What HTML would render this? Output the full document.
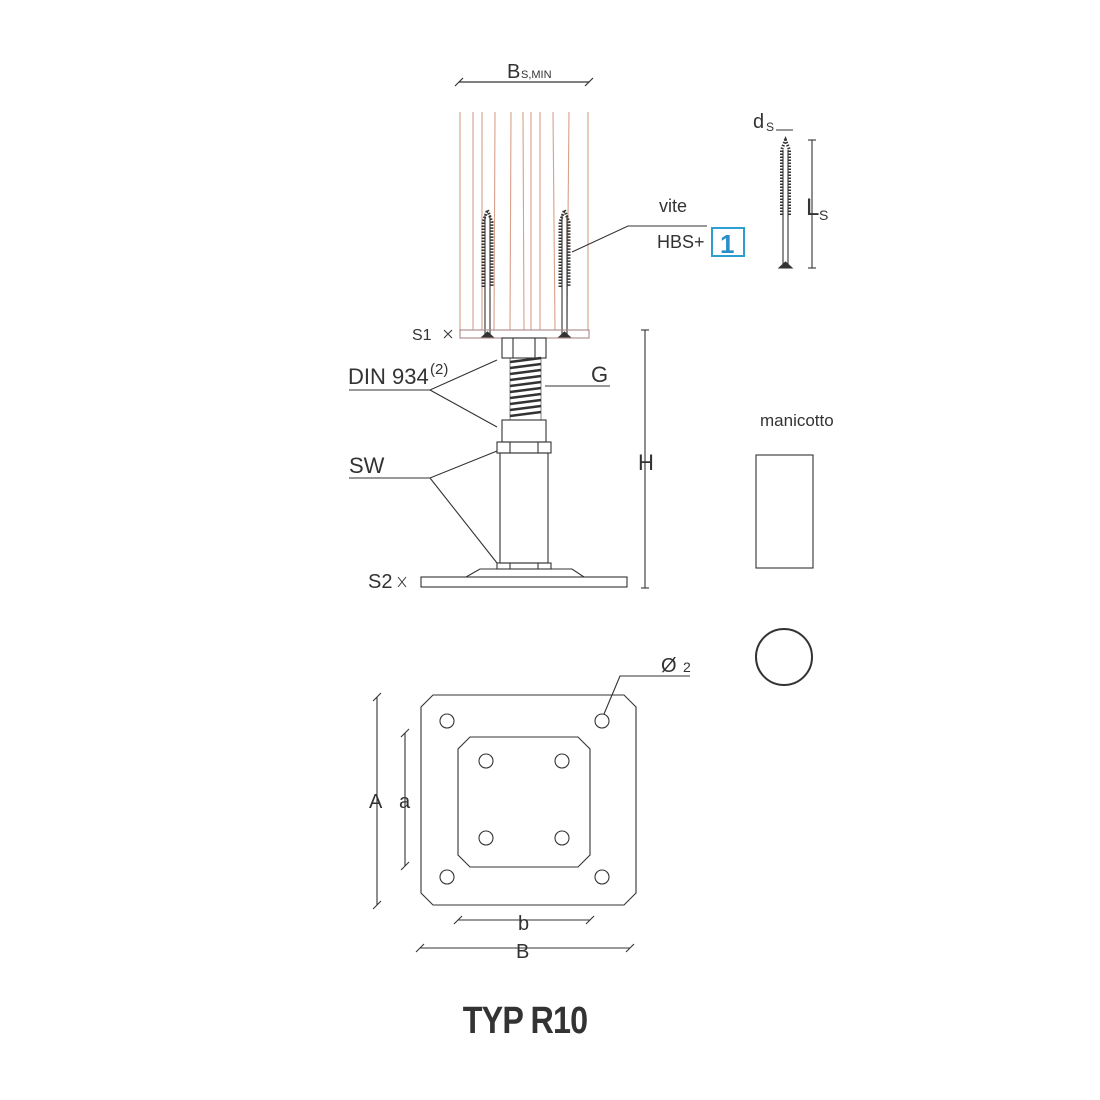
<!DOCTYPE html><html><head><style>body{margin:0;background:#fff}svg{display:block}text{font-family:"Liberation Sans",sans-serif;fill:#333}</style></head><body>
<svg width="1100" height="1100" viewBox="0 0 1100 1100" xmlns="http://www.w3.org/2000/svg">
<g stroke="#333" fill="none" stroke-width="1.2">
<line x1="459" y1="82" x2="589" y2="82"/><line x1="455" y1="86" x2="463" y2="78"/><line x1="585" y1="86" x2="593" y2="78"/>
</g>
<text x="507" y="78" font-size="20">B</text><text x="521" y="78" font-size="11">S,MIN</text>
<g stroke="#d9a08a" stroke-width="1.1" fill="none">
<line x1="460" y1="112" x2="460" y2="330"/><line x1="473" y1="112" x2="473" y2="330"/><line x1="482" y1="112" x2="482" y2="330"/><line x1="495" y1="112" x2="494" y2="330"/><line x1="511" y1="112" x2="510" y2="330"/><line x1="523" y1="112" x2="524" y2="330"/><line x1="531" y1="112" x2="531" y2="330"/><line x1="540" y1="112" x2="540" y2="330"/><line x1="553" y1="112" x2="555" y2="330"/><line x1="569" y1="112" x2="567" y2="330"/><line x1="588" y1="112" x2="588" y2="330"/>
</g>
<g stroke="#333" fill="none" stroke-width="1.1">
<line x1="485" y1="215" x2="485" y2="334"/><line x1="490" y1="215" x2="490" y2="334"/>
<line x1="562" y1="215" x2="562" y2="334"/><line x1="567" y1="215" x2="567" y2="334"/>
<path d="M483 287 L483 222 L487.5 210 L492 222 L492 287" stroke-dasharray="1.5 1.5" stroke-width="3"/>
<path d="M560 287 L560 222 L564.5 210 L569 222 L569 287" stroke-dasharray="1.5 1.5" stroke-width="3"/>
<path d="M481 338 L487.5 332 L494 338 Z M558 338 L564.5 332 L571 338 Z" fill="#333"/>
<rect x="460" y="330" width="129" height="8" stroke="#a88"/>
<polyline points="572,252 628,226 707,226"/>
<rect x="502" y="338" width="44" height="20"/><line x1="513" y1="338" x2="513" y2="358"/><line x1="535" y1="338" x2="535" y2="358"/>
<rect x="510" y="358" width="31" height="62" stroke-width="0.6"/>
<path d="M510 362 L541 358 M510 368 L541 364 M510 374 L541 370 M510 380 L541 376 M510 386 L541 382 M510 392 L541 388 M510 398 L541 394 M510 404 L541 400 M510 410 L541 406 M510 416 L541 412" stroke-width="2.5"/>
<rect x="502" y="420" width="44" height="22"/>
<rect x="497" y="442" width="54" height="11"/><line x1="510" y1="442" x2="510" y2="453"/><line x1="538" y1="442" x2="538" y2="453"/>
<rect x="500" y="453" width="48" height="110"/>
<rect x="497" y="563" width="54" height="6"/><line x1="510" y1="563" x2="510" y2="569"/><line x1="538" y1="563" x2="538" y2="569"/>
<polyline points="466,577 480,569 572,569 584,577"/>
<rect x="421" y="577" width="206" height="10"/>
<polyline points="349,390 430,390 497,360"/><line x1="430" y1="390" x2="497" y2="427"/>
<polyline points="349,478 430,478 497,451"/><line x1="430" y1="478" x2="497" y2="563"/>
<polyline points="610,386 545,386"/>
<line x1="645" y1="330" x2="645" y2="588"/><line x1="641" y1="330" x2="649" y2="330"/><line x1="641" y1="588" x2="649" y2="588"/>
<path d="M444 330 L452 338 M444 338 L452 330" stroke-width="1"/>
<path d="M398 577 L406 587 M398 587 L406 577" stroke-width="1"/>
<line x1="783" y1="150" x2="783" y2="265"/><line x1="788" y1="150" x2="788" y2="265"/>
<path d="M781.5 215 L781.5 150 L785.5 140 L789.5 150 L789.5 215" stroke-dasharray="1.5 1.5" stroke-width="3"/>
<path d="M779 268 L785.5 262 L792 268 Z" fill="#333"/>
<line x1="776" y1="130" x2="793" y2="130"/>
<line x1="812" y1="140" x2="812" y2="268"/><line x1="808" y1="140" x2="816" y2="140"/><line x1="808" y1="268" x2="816" y2="268"/>
<rect x="756" y="455" width="57" height="113"/>
<circle cx="784" cy="657" r="28" stroke-width="2"/>
<path d="M433 695 L624 695 L636 707 L636 893 L624 905 L433 905 L421 893 L421 707 Z"/>
<path d="M470 737 L578 737 L590 749 L590 855 L578 867 L470 867 L458 855 L458 749 Z"/>
<circle cx="447" cy="721" r="7"/><circle cx="602" cy="721" r="7"/><circle cx="447" cy="877" r="7"/><circle cx="602" cy="877" r="7"/>
<circle cx="486" cy="761" r="7"/><circle cx="562" cy="761" r="7"/><circle cx="486" cy="838" r="7"/><circle cx="562" cy="838" r="7"/>
<polyline points="604,714 620,676 690,676"/>
<line x1="377" y1="697" x2="377" y2="905"/><line x1="373" y1="701" x2="381" y2="693"/><line x1="373" y1="909" x2="381" y2="901"/>
<line x1="405" y1="733" x2="405" y2="866"/><line x1="401" y1="737" x2="409" y2="729"/><line x1="401" y1="870" x2="409" y2="862"/>
<line x1="458" y1="920" x2="590" y2="920"/><line x1="454" y1="924" x2="462" y2="916"/><line x1="586" y1="924" x2="594" y2="916"/>
<line x1="420" y1="948" x2="630" y2="948"/><line x1="416" y1="952" x2="424" y2="944"/><line x1="626" y1="952" x2="634" y2="944"/>
</g>
<rect x="712" y="228" width="32" height="28" fill="none" stroke="#2a9fd0" stroke-width="2"/>
<text x="720" y="253" font-size="26" font-weight="bold" style="fill:#2a8fc8">1</text>
<text x="659" y="212" font-size="18">vite</text>
<text x="657" y="248" font-size="18">HBS+</text>
<text x="412" y="340" font-size="16">S1</text>
<text x="348" y="384" font-size="22">DIN 934</text><text x="430" y="374" font-size="15">(2)</text>
<text x="591" y="382" font-size="22">G</text>
<text x="349" y="473" font-size="22">SW</text>
<text x="368" y="588" font-size="20">S2</text>
<text x="638" y="470" font-size="22">H</text>
<text x="753" y="128" font-size="20">d</text><text x="766" y="131" font-size="12">S</text>
<text x="806" y="215" font-size="24">L</text><text x="819" y="220" font-size="14">S</text>
<text x="760" y="426" font-size="17">manicotto</text>
<text x="661" y="672" font-size="20">Ø</text><text x="683" y="672" font-size="14">2</text>
<text x="369" y="808" font-size="20">A</text>
<text x="399" y="808" font-size="20">a</text>
<text x="518" y="930" font-size="20">b</text>
<text x="516" y="958" font-size="20">B</text>
<text x="525" y="1033" font-size="38" font-weight="bold" text-anchor="middle" style="letter-spacing:-1px" transform="translate(525 0) scale(0.85 1) translate(-525 0)">TYP R10</text>
</svg></body></html>
